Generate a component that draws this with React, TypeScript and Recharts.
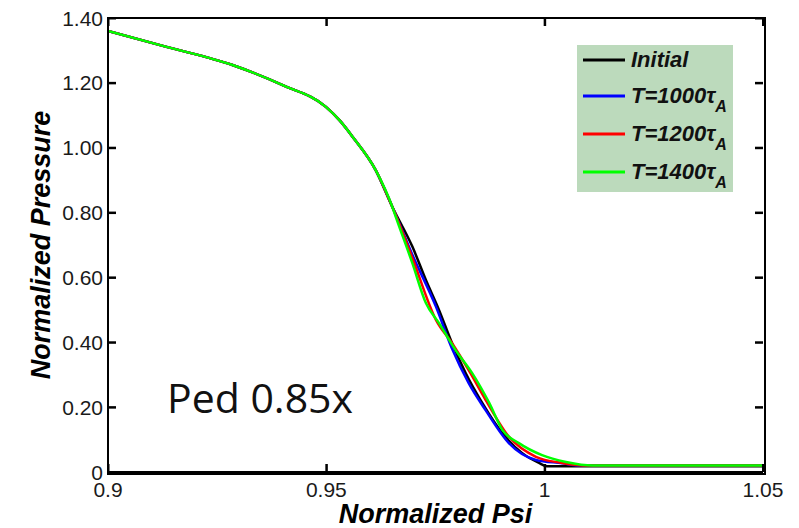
import React from "react";
import { LineChart, Line, XAxis, YAxis, Legend } from "recharts";

// Pedestal top shared by every profile (the curves coincide here)
const corePsi = [0.9, 0.9134, 0.9285, 0.94, 0.9499, 0.953, 0.956, 0.9613, 0.9651];
const corePressure = [1.36, 1.311, 1.255, 1.193, 1.126, 1.085, 1.034, 0.931, 0.818];

// Steep-gradient region and edge, one pair of arrays per time slice
const initialPsi = [0.9697, 0.9728, 0.9758, 0.9788, 0.9819, 0.9857, 0.9903, 0.9948, 0.9987, 1.0005, 1.05];
const initialPressure = [0.695, 0.592, 0.5, 0.397, 0.305, 0.213, 0.12, 0.059, 0.028, 0.018, 0.018];

const t1000Psi = [0.9697, 0.9751, 0.9788, 0.9826, 0.9865, 0.9918, 0.998, 1.004, 1.008, 1.05];
const t1000Pressure = [0.67, 0.51, 0.38, 0.274, 0.19, 0.089, 0.037, 0.027, 0.02, 0.02];

const t1200Psi = [0.9697, 0.9751, 0.9788, 0.9826, 0.9865, 0.9918, 0.998, 1.004, 1.01, 1.05];
const t1200Pressure = [0.66, 0.469, 0.397, 0.314, 0.222, 0.109, 0.047, 0.028, 0.02, 0.02];

const t1400Psi = [0.9659, 0.9697, 0.9728, 0.9758, 0.9796, 0.9834, 0.9873, 0.9903, 0.9941, 0.9994, 1.0049, 1.011, 1.05];
const t1400Pressure = [0.787, 0.644, 0.521, 0.459, 0.376, 0.305, 0.213, 0.13, 0.089, 0.052, 0.031, 0.02, 0.02];

const xTicks = [0.9, 0.95, 1, 1.05];
const xTickLabels = ["0.9", "0.95", "1", "1.05"];
const yTicks = [0, 0.2, 0.4, 0.6, 0.8, 1.0, 1.2, 1.4];
const yTickLabels = ["0", "0.20", "0.40", "0.60", "0.80", "1.00", "1.20", "1.40"];

const seriesNames = ["Initial", "T=1000", "T=1200", "T=1400"];
const seriesColors = ["#000000", "#0000ff", "#ff0000", "#00ff00"];

const build = (psi: number[], p: number[]) => {
  const rows = corePsi.map((x, i) => ({ psi: x, p: corePressure[i] }));
  return rows.concat(psi.map((x, i) => ({ psi: x, p: p[i] })));
};

const seriesData = [
  build(initialPsi, initialPressure),
  build(t1000Psi, t1000Pressure),
  build(t1200Psi, t1200Pressure),
  build(t1400Psi, t1400Pressure),
];

const W = 799;
const H = 528;
const MARGIN = { top: 18, right: 36, bottom: 0, left: 0 };
const Y_AXIS_W = 108;
const X_AXIS_H = 56;
const PLOT_LEFT = MARGIN.left + Y_AXIS_W;
const PLOT_TOP = MARGIN.top;
const PLOT_RIGHT = W - MARGIN.right;
const PLOT_BOTTOM = H - MARGIN.bottom - X_AXIS_H;

const FONT = "'Liberation Sans', Arial, sans-serif";
const TICK = 8;

// Bottom tick: label plus inward marks on both the bottom and top frame edges
const BottomTick = (props: any) => {
  const { x, y, payload } = props;
  const i = xTicks.indexOf(payload.value);
  return (
    <g>
      <rect x={x - 1} y={y - TICK} width={2.5} height={TICK} fill="#000" />
      <rect x={x - 1} y={PLOT_TOP} width={2.5} height={TICK} fill="#000" />
      <text x={x} y={y + 25} textAnchor="middle" fontFamily={FONT} fontSize={21} fill="#1a1a1a">
        {i >= 0 ? xTickLabels[i] : payload.value}
      </text>
    </g>
  );
};

// Left tick: label plus inward marks on both the left and right frame edges
const LeftTick = (props: any) => {
  const { x, y, payload } = props;
  const i = yTicks.findIndex((v) => Math.abs(v - payload.value) < 1e-9);
  return (
    <g>
      <rect x={x} y={y - 1} width={TICK} height={2.5} fill="#000" />
      <rect x={PLOT_RIGHT - TICK} y={y - 1} width={TICK} height={2.5} fill="#000" />
      <text x={x - 5} y={y + 7.5} textAnchor="end" fontFamily={FONT} fontSize={21} fill="#1a1a1a">
        {i >= 0 ? yTickLabels[i] : payload.value}
      </text>
    </g>
  );
};

const LegendBox = () => (
  <div
    style={{
      position: "relative",
      width: 156,
      height: 147,
      background: "#bcdabc",
      fontFamily: FONT,
      fontWeight: "bold",
      fontStyle: "italic",
      fontSize: 22,
      color: "#111",
    }}
  >
    {seriesNames.map((name, i) => {
      const cy = [15, 51, 89, 127][i];
      return (
        <div key={name} style={{ position: "absolute", left: 0, top: cy - 14, height: 28, width: 156 }}>
          <svg width={48} height={28} style={{ position: "absolute", left: 0, top: 0 }}>
            <line x1={6} x2={48} y1={14} y2={14} stroke={seriesColors[i]} strokeWidth={3} />
          </svg>
          <div style={{ position: "absolute", left: 54, top: 0, lineHeight: "28px", whiteSpace: "nowrap" }}>
            {i === 0 ? (
              name
            ) : (
              <>
                {name}
                {"\u03c4"}
                <span style={{ fontSize: 16, position: "relative", top: 9 }}>A</span>
              </>
            )}
          </div>
        </div>
      );
    })}
  </div>
);

export default function App() {
  return (
    <div style={{ position: "absolute", left: 0, top: 0, width: W, height: H, background: "#fff" }}>
      {/* box frame behind the chart */}
      <div
        style={{
          position: "absolute",
          left: PLOT_LEFT - 1,
          top: PLOT_TOP - 1,
          width: PLOT_RIGHT - PLOT_LEFT,
          height: PLOT_BOTTOM - PLOT_TOP,
          border: "2px solid #000",
        }}
      />
      <LineChart width={W} height={H} margin={MARGIN}>
        <XAxis
          xAxisId="bottom"
          dataKey="psi"
          type="number"
          domain={[0.9, 1.05]}
          ticks={xTicks}
          allowDataOverflow
          height={X_AXIS_H}
          tickSize={0}
          tickMargin={0}
          tickLine={false}
          axisLine={{ stroke: "#000", strokeWidth: 2 }}
          tick={<BottomTick />}
          label={(props: any) => {
            const vb = props.viewBox;
            return (
              <text
                x={vb.x + vb.width / 2}
                y={vb.y + 51}
                textAnchor="middle"
                fontFamily={FONT}
                fontWeight="bold"
                fontStyle="italic"
                fontSize={27}
                fill="#000"
              >
                Normalized Psi
              </text>
            );
          }}
        />
        <YAxis
          yAxisId="left"
          type="number"
          domain={[0, 1.4]}
          ticks={yTicks}
          allowDataOverflow
          width={Y_AXIS_W}
          tickSize={0}
          tickMargin={0}
          tickLine={false}
          axisLine={{ stroke: "#000", strokeWidth: 2 }}
          tick={<LeftTick />}
          label={(props: any) => {
            const vb = props.viewBox;
            const cx = 41;
            const cy = vb.y + vb.height / 2;
            return (
              <text
                x={cx}
                y={cy}
                transform={`rotate(-90 ${cx} ${cy})`}
                textAnchor="middle"
                dominantBaseline="central"
                fontFamily={FONT}
                fontWeight="bold"
                fontStyle="italic"
                fontSize={27}
                fill="#000"
              >
                Normalized Pressure
              </text>
            );
          }}
        />
        {seriesData.map((d, i) => (
          <Line
            key={seriesNames[i]}
            name={seriesNames[i]}
            data={d}
            dataKey="p"
            xAxisId="bottom"
            yAxisId="left"
            type="monotone"
            stroke={seriesColors[i]}
            strokeWidth={2.5}
            dot={false}
            isAnimationActive={false}
          />
        ))}
        <Legend
          layout="vertical"
          align="center"
          verticalAlign="middle"
          content={<LegendBox />}
          wrapperStyle={{ left: 577, top: 45, width: 156, height: 147 }}
        />
      </LineChart>
      <svg width={W} height={H} style={{ position: "absolute", left: 0, top: 0, pointerEvents: "none" }}>
        <text x={167} y={413} fontFamily="'Open Sans', 'Noto Sans', sans-serif" fontSize={41} fill="#111">
          Ped 0.85x
        </text>
      </svg>
    </div>
  );
}
